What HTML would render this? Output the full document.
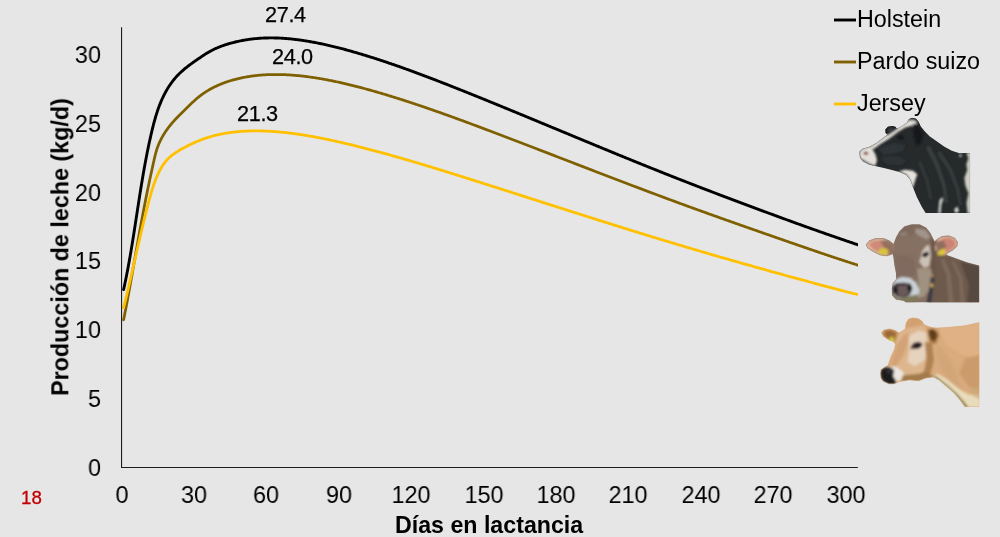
<!DOCTYPE html>
<html><head><meta charset="utf-8">
<style>
html,body{margin:0;padding:0;}
body{width:1000px;height:537px;background:#e7e6e6;overflow:hidden;position:relative;font-family:"Liberation Sans",sans-serif;color:#000;}
svg{position:absolute;left:0;top:0;}
.t{position:absolute;white-space:nowrap;line-height:1;will-change:transform;}
.yt{font-size:24.4px;text-align:right;width:60px;left:41px;transform:scaleX(0.96);transform-origin:100% 50%;}
.xt{font-size:24.4px;text-align:center;width:80px;transform:scaleX(0.96);transform-origin:50% 50%;}
.dl{font-size:21.7px;letter-spacing:-0.35px;-webkit-text-stroke:0.25px #000;}
.lg{font-size:23.3px;left:857px;}
</style></head><body>
<svg width="1000" height="537" viewBox="0 0 1000 537">
<defs><clipPath id="cp"><rect x="121" y="20" width="737" height="448"/></clipPath></defs>
<g clip-path="url(#cp)">
<path d="M123.60,289.60 L123.83,288.55 L124.06,287.50 L124.29,286.44 L124.51,285.39 L124.74,284.34 L124.96,283.28 L125.18,282.23 L125.39,281.18 L125.61,280.13 L125.83,279.07 L126.04,278.02 L126.25,276.97 L126.46,275.92 L126.67,274.86 L126.87,273.81 L127.08,272.76 L127.28,271.71 L127.48,270.65 L127.68,269.60 L127.88,268.55 L128.08,267.50 L128.27,266.44 L128.47,265.39 L128.66,264.34 L128.85,263.29 L129.04,262.23 L129.23,261.18 L129.42,260.13 L129.61,259.08 L129.79,258.02 L129.98,256.97 L130.16,255.92 L130.34,254.87 L130.52,253.81 L130.70,252.76 L130.88,251.71 L131.06,250.66 L131.24,249.60 L131.41,248.55 L131.59,247.50 L131.76,246.45 L131.94,245.39 L132.11,244.34 L132.28,243.29 L132.45,242.24 L132.62,241.19 L132.79,240.13 L132.96,239.08 L133.13,238.03 L133.30,236.98 L133.46,235.92 L133.63,234.87 L133.80,233.82 L133.96,232.77 L134.13,231.71 L134.29,230.66 L134.46,229.61 L134.62,228.56 L134.78,227.50 L134.95,226.45 L135.11,225.40 L135.27,224.35 L135.43,223.30 L135.59,222.24 L135.76,221.19 L135.92,220.14 L136.08,219.09 L136.24,218.03 L136.40,216.98 L136.56,215.93 L136.72,214.88 L136.89,213.83 L137.05,212.77 L137.21,211.72 L137.37,210.67 L137.53,209.62 L137.69,208.57 L137.85,207.51 L138.01,206.46 L138.18,205.41 L138.34,204.36 L138.50,203.31 L138.66,202.25 L138.83,201.20 L138.99,200.15 L139.15,199.10 L139.32,198.05 L139.48,196.99 L139.65,195.94 L139.81,194.89 L139.98,193.84 L140.15,192.79 L140.31,191.73 L140.48,190.68 L140.65,189.63 L140.82,188.58 L140.99,187.53 L141.16,186.48 L141.33,185.42 L141.50,184.37 L141.68,183.32 L141.85,182.27 L142.02,181.22 L142.20,180.17 L142.38,179.11 L142.55,178.06 L142.73,177.01 L142.91,175.96 L143.09,174.91 L143.27,173.86 L143.45,172.80 L143.64,171.75 L143.82,170.70 L144.01,169.65 L144.20,168.60 L144.38,167.55 L144.57,166.50 L144.76,165.44 L144.95,164.39 L145.15,163.34 L145.34,162.29 L145.54,161.24 L145.74,160.19 L145.93,159.14 L146.14,158.09 L146.34,157.03 L146.54,155.98 L146.75,154.93 L146.95,153.88 L147.16,152.83 L147.37,151.78 L147.58,150.73 L147.79,149.68 L148.01,148.63 L148.22,147.57 L148.44,146.52 L148.66,145.47 L148.88,144.42 L149.11,143.37 L149.33,142.32 L149.56,141.27 L149.79,140.22 L150.02,139.17 L150.26,138.12 L150.49,137.07 L150.73,136.01 L150.97,134.96 L151.21,133.91 L151.45,132.86 L151.70,131.81 L151.95,130.76 L152.20,129.71 L152.46,128.67 L152.71,127.62 L152.98,126.57 L153.24,125.53 L153.51,124.48 L153.78,123.44 L154.06,122.40 L154.34,121.36 L154.63,120.32 L154.92,119.29 L155.22,118.26 L155.52,117.22 L155.82,116.20 L156.14,115.17 L156.45,114.15 L156.78,113.13 L157.11,112.11 L157.44,111.10 L157.79,110.09 L158.14,109.08 L158.49,108.08 L158.86,107.08 L159.23,106.08 L159.60,105.09 L159.99,104.10 L160.38,103.12 L160.79,102.14 L161.19,101.17 L161.61,100.20 L162.04,99.23 L162.47,98.27 L162.92,97.32 L163.37,96.37 L163.83,95.43 L164.31,94.49 L164.79,93.56 L165.28,92.63 L165.78,91.71 L166.30,90.79 L166.82,89.89 L167.35,88.99 L167.90,88.09 L168.45,87.20 L169.02,86.32 L169.60,85.45 L170.19,84.58 L170.79,83.72 L171.40,82.87 L172.03,82.02 L172.66,81.19 L173.31,80.36 L173.98,79.54 L174.65,78.72 L175.34,77.92 L176.05,77.12 L176.76,76.34 L177.49,75.56 L178.23,74.79 L178.99,74.03 L179.76,73.27 L180.55,72.53 L181.34,71.80 L182.15,71.07 L182.97,70.35 L183.79,69.64 L184.63,68.93 L185.47,68.24 L186.33,67.55 L187.19,66.87 L188.05,66.19 L188.93,65.52 L189.81,64.86 L190.69,64.20 L191.58,63.55 L192.47,62.91 L193.36,62.27 L194.25,61.63 L195.15,61.00 L196.05,60.38 L196.94,59.76 L197.84,59.15 L198.73,58.54 L199.63,57.93 L200.52,57.33 L201.41,56.73 L202.29,56.14 L203.18,55.55 L204.06,54.97 L204.95,54.40 L205.83,53.83 L206.72,53.28 L207.62,52.73 L208.52,52.20 L209.43,51.67 L210.34,51.16 L211.26,50.67 L212.19,50.18 L213.13,49.71 L214.08,49.26 L215.03,48.81 L215.99,48.38 L216.96,47.96 L217.93,47.55 L218.91,47.15 L219.90,46.76 L220.89,46.38 L221.88,46.01 L222.88,45.65 L223.88,45.30 L224.89,44.96 L225.90,44.63 L226.92,44.31 L227.93,43.99 L228.96,43.69 L229.98,43.39 L231.01,43.10 L232.04,42.82 L233.07,42.55 L234.11,42.28 L235.14,42.03 L236.19,41.78 L237.23,41.54 L238.27,41.31 L239.32,41.09 L240.37,40.87 L241.42,40.66 L242.48,40.46 L243.53,40.27 L244.59,40.09 L245.65,39.91 L246.71,39.74 L247.77,39.58 L248.84,39.43 L249.90,39.28 L250.97,39.15 L252.03,39.02 L253.10,38.89 L254.17,38.78 L255.24,38.67 L256.31,38.57 L257.38,38.48 L258.45,38.39 L259.52,38.31 L260.59,38.24 L261.66,38.17 L262.73,38.12 L263.80,38.07 L264.87,38.02 L265.94,37.99 L267.01,37.96 L268.08,37.94 L269.15,37.92 L270.22,37.91 L271.29,37.91 L272.36,37.91 L273.42,37.92 L274.49,37.94 L275.56,37.96 L276.62,37.99 L277.69,38.02 L278.76,38.06 L279.82,38.11 L280.89,38.16 L281.95,38.22 L283.02,38.29 L284.08,38.36 L285.15,38.43 L286.21,38.51 L287.27,38.60 L288.33,38.69 L289.40,38.79 L290.46,38.89 L291.52,39.00 L292.58,39.11 L293.64,39.22 L294.70,39.35 L295.76,39.47 L296.82,39.60 L297.87,39.74 L298.93,39.88 L299.99,40.02 L301.05,40.17 L302.10,40.33 L303.16,40.48 L304.21,40.65 L305.27,40.81 L306.32,40.98 L307.37,41.16 L308.43,41.33 L309.48,41.51 L310.53,41.70 L311.58,41.89 L312.63,42.08 L313.68,42.28 L314.73,42.47 L315.78,42.68 L316.83,42.88 L317.88,43.09 L318.92,43.30 L319.97,43.52 L321.02,43.73 L322.06,43.95 L323.10,44.18 L324.15,44.40 L325.19,44.63 L326.23,44.87 L327.28,45.10 L328.32,45.34 L329.36,45.58 L330.40,45.82 L331.44,46.07 L332.48,46.32 L333.52,46.57 L334.55,46.82 L335.59,47.08 L336.63,47.34 L337.66,47.60 L338.70,47.86 L339.73,48.13 L340.77,48.39 L341.80,48.66 L342.84,48.94 L343.87,49.21 L344.90,49.49 L345.93,49.77 L346.96,50.05 L347.99,50.33 L349.02,50.62 L350.05,50.90 L351.08,51.19 L352.11,51.49 L353.14,51.78 L354.17,52.07 L355.19,52.37 L356.22,52.67 L357.24,52.97 L358.27,53.27 L359.30,53.58 L360.32,53.88 L361.34,54.19 L362.37,54.50 L363.39,54.81 L364.41,55.12 L365.43,55.43 L366.45,55.75 L367.48,56.06 L368.50,56.38 L369.52,56.70 L370.54,57.02 L371.55,57.34 L372.57,57.67 L373.59,57.99 L374.61,58.32 L375.63,58.64 L376.64,58.97 L377.66,59.30 L378.67,59.63 L379.69,59.96 L380.70,60.30 L381.72,60.63 L382.73,60.97 L383.75,61.30 L384.76,61.64 L385.77,61.98 L386.78,62.32 L387.80,62.66 L388.81,63.01 L389.82,63.35 L390.83,63.69 L391.84,64.04 L392.85,64.39 L393.86,64.74 L394.87,65.09 L395.88,65.44 L396.89,65.79 L397.89,66.14 L398.90,66.49 L399.91,66.85 L400.92,67.20 L401.92,67.56 L402.93,67.92 L403.94,68.28 L404.94,68.64 L405.95,69.00 L406.95,69.36 L407.96,69.72 L408.96,70.09 L409.96,70.45 L410.97,70.82 L411.97,71.18 L412.97,71.55 L413.98,71.92 L414.98,72.29 L415.98,72.66 L416.98,73.03 L417.98,73.40 L418.99,73.77 L419.99,74.14 L420.99,74.52 L421.99,74.89 L422.99,75.27 L423.99,75.64 L424.99,76.02 L425.99,76.40 L426.99,76.77 L427.98,77.15 L428.98,77.53 L429.98,77.91 L430.98,78.29 L431.98,78.68 L432.97,79.06 L433.97,79.44 L434.97,79.82 L435.97,80.21 L436.96,80.59 L437.96,80.98 L438.95,81.36 L439.95,81.75 L440.95,82.14 L441.94,82.53 L442.94,82.91 L443.93,83.30 L444.93,83.69 L445.92,84.08 L446.92,84.47 L447.91,84.86 L448.90,85.25 L449.90,85.64 L450.89,86.04 L451.89,86.43 L452.88,86.82 L453.87,87.22 L454.87,87.61 L455.86,88.00 L456.85,88.40 L457.85,88.79 L458.84,89.19 L459.83,89.58 L460.82,89.98 L461.81,90.38 L462.81,90.77 L463.80,91.17 L464.79,91.57 L465.78,91.96 L466.77,92.36 L467.77,92.76 L468.76,93.16 L469.75,93.56 L470.74,93.96 L471.73,94.35 L472.72,94.75 L473.71,95.15 L474.70,95.55 L475.69,95.95 L476.69,96.35 L477.68,96.75 L478.67,97.15 L479.66,97.55 L480.65,97.96 L481.64,98.36 L482.63,98.76 L483.62,99.16 L484.61,99.56 L485.60,99.96 L486.59,100.37 L487.58,100.77 L488.57,101.17 L489.56,101.57 L490.54,101.98 L491.53,102.38 L492.52,102.78 L493.51,103.19 L494.50,103.59 L495.49,104.00 L496.48,104.40 L497.47,104.80 L498.46,105.21 L499.45,105.61 L500.44,106.02 L501.42,106.42 L502.41,106.83 L503.40,107.23 L504.39,107.64 L505.38,108.04 L506.37,108.45 L507.35,108.86 L508.34,109.26 L509.33,109.67 L510.32,110.07 L511.31,110.48 L512.29,110.89 L513.28,111.29 L514.27,111.70 L515.26,112.11 L516.25,112.51 L517.23,112.92 L518.22,113.33 L519.21,113.74 L520.20,114.14 L521.18,114.55 L522.17,114.96 L523.16,115.37 L524.15,115.78 L525.13,116.18 L526.12,116.59 L527.11,117.00 L528.10,117.41 L529.08,117.82 L530.07,118.22 L531.06,118.63 L532.04,119.04 L533.03,119.45 L534.02,119.86 L535.01,120.27 L535.99,120.68 L536.98,121.09 L537.97,121.50 L538.95,121.90 L539.94,122.31 L540.93,122.72 L541.91,123.13 L542.90,123.54 L543.89,123.95 L544.87,124.36 L545.86,124.77 L546.85,125.18 L547.83,125.59 L548.82,126.00 L549.81,126.41 L550.79,126.82 L551.78,127.23 L552.77,127.64 L553.75,128.05 L554.74,128.46 L555.73,128.87 L556.71,129.27 L557.70,129.68 L558.69,130.09 L559.67,130.50 L560.66,130.91 L561.65,131.32 L562.63,131.73 L563.62,132.14 L564.61,132.55 L565.59,132.96 L566.58,133.37 L567.57,133.78 L568.55,134.19 L569.54,134.60 L570.53,135.01 L571.51,135.42 L572.50,135.83 L573.49,136.24 L574.47,136.65 L575.46,137.06 L576.45,137.47 L577.43,137.88 L578.42,138.28 L579.41,138.69 L580.40,139.10 L581.38,139.51 L582.37,139.92 L583.36,140.33 L584.34,140.74 L585.33,141.15 L586.32,141.56 L587.30,141.96 L588.29,142.37 L589.28,142.78 L590.27,143.19 L591.25,143.60 L592.24,144.01 L593.23,144.42 L594.21,144.82 L595.20,145.23 L596.19,145.64 L597.18,146.05 L598.16,146.45 L599.15,146.86 L600.14,147.27 L601.13,147.68 L602.11,148.08 L603.10,148.49 L604.09,148.90 L605.08,149.30 L606.06,149.71 L607.05,150.12 L608.04,150.52 L609.03,150.93 L610.02,151.34 L611.00,151.74 L611.99,152.15 L612.98,152.55 L613.97,152.96 L614.96,153.37 L615.95,153.77 L616.93,154.18 L617.92,154.58 L618.91,154.99 L619.90,155.39 L620.89,155.79 L621.88,156.20 L622.87,156.60 L623.86,157.01 L624.84,157.41 L625.83,157.81 L626.82,158.22 L627.81,158.62 L628.80,159.02 L629.79,159.43 L630.78,159.83 L631.77,160.23 L632.76,160.63 L633.75,161.04 L634.74,161.44 L635.73,161.84 L636.72,162.24 L637.71,162.64 L638.70,163.04 L639.69,163.44 L640.68,163.85 L641.67,164.25 L642.66,164.65 L643.65,165.05 L644.64,165.45 L645.63,165.84 L646.62,166.24 L647.61,166.64 L648.60,167.04 L649.60,167.44 L650.59,167.84 L651.58,168.24 L652.57,168.63 L653.56,169.03 L654.55,169.43 L655.55,169.83 L656.54,170.22 L657.53,170.62 L658.52,171.01 L659.51,171.41 L660.51,171.81 L661.50,172.20 L662.49,172.60 L663.48,172.99 L664.48,173.39 L665.47,173.78 L666.46,174.17 L667.46,174.57 L668.45,174.96 L669.44,175.35 L670.44,175.75 L671.43,176.14 L672.42,176.53 L673.42,176.92 L674.41,177.31 L675.40,177.71 L676.40,178.10 L677.39,178.49 L678.39,178.88 L679.38,179.27 L680.38,179.66 L681.37,180.05 L682.37,180.44 L683.36,180.83 L684.36,181.21 L685.35,181.60 L686.35,181.99 L687.34,182.38 L688.34,182.77 L689.33,183.15 L690.33,183.54 L691.33,183.93 L692.32,184.31 L693.32,184.70 L694.31,185.09 L695.31,185.47 L696.31,185.86 L697.30,186.24 L698.30,186.63 L699.30,187.01 L700.29,187.40 L701.29,187.78 L702.29,188.17 L703.28,188.55 L704.28,188.93 L705.28,189.32 L706.28,189.70 L707.27,190.08 L708.27,190.46 L709.27,190.85 L710.27,191.23 L711.26,191.61 L712.26,191.99 L713.26,192.37 L714.26,192.75 L715.26,193.13 L716.26,193.52 L717.25,193.90 L718.25,194.28 L719.25,194.66 L720.25,195.03 L721.25,195.41 L722.25,195.79 L723.25,196.17 L724.25,196.55 L725.24,196.93 L726.24,197.31 L727.24,197.69 L728.24,198.06 L729.24,198.44 L730.24,198.82 L731.24,199.19 L732.24,199.57 L733.24,199.95 L734.24,200.32 L735.24,200.70 L736.24,201.08 L737.24,201.45 L738.24,201.83 L739.24,202.20 L740.24,202.58 L741.24,202.95 L742.24,203.33 L743.24,203.70 L744.24,204.08 L745.24,204.45 L746.25,204.83 L747.25,205.20 L748.25,205.57 L749.25,205.95 L750.25,206.32 L751.25,206.69 L752.25,207.06 L753.25,207.44 L754.25,207.81 L755.26,208.18 L756.26,208.55 L757.26,208.92 L758.26,209.30 L759.26,209.67 L760.26,210.04 L761.27,210.41 L762.27,210.78 L763.27,211.15 L764.27,211.52 L765.27,211.89 L766.28,212.26 L767.28,212.63 L768.28,213.00 L769.28,213.37 L770.29,213.74 L771.29,214.11 L772.29,214.48 L773.29,214.85 L774.30,215.22 L775.30,215.58 L776.30,215.95 L777.30,216.32 L778.31,216.69 L779.31,217.06 L780.31,217.42 L781.32,217.79 L782.32,218.16 L783.32,218.52 L784.33,218.89 L785.33,219.26 L786.33,219.62 L787.34,219.99 L788.34,220.35 L789.35,220.72 L790.35,221.08 L791.35,221.45 L792.36,221.81 L793.36,222.18 L794.37,222.54 L795.37,222.90 L796.38,223.27 L797.38,223.63 L798.38,223.99 L799.39,224.36 L800.39,224.72 L801.40,225.08 L802.40,225.44 L803.41,225.80 L804.41,226.16 L805.42,226.52 L806.43,226.88 L807.43,227.24 L808.44,227.60 L809.44,227.96 L810.45,228.32 L811.46,228.68 L812.46,229.04 L813.47,229.40 L814.47,229.76 L815.48,230.11 L816.49,230.47 L817.49,230.83 L818.50,231.18 L819.51,231.54 L820.52,231.90 L821.52,232.25 L822.53,232.61 L823.54,232.96 L824.55,233.32 L825.55,233.67 L826.56,234.02 L827.57,234.38 L828.58,234.73 L829.59,235.08 L830.60,235.43 L831.60,235.79 L832.61,236.14 L833.62,236.49 L834.63,236.84 L835.64,237.19 L836.65,237.54 L837.66,237.89 L838.67,238.24 L839.68,238.59 L840.69,238.93 L841.70,239.28 L842.71,239.63 L843.72,239.98 L844.73,240.32 L845.74,240.67 L846.75,241.01 L847.76,241.36 L848.78,241.70 L849.79,242.05 L850.80,242.39 L851.81,242.73 L852.82,243.08 L853.83,243.42 L854.85,243.76 L855.86,244.10 L856.87,244.44 L857.89,244.78 L858.90,245.12 L859.91,245.46 L860.92,245.80 L861.94,246.14 L862.95,246.48 L863.97,246.82 L864.98,247.15 L865.99,247.49 L867.01,247.83" fill="none" stroke="#000000" stroke-width="2.9" stroke-linejoin="round" stroke-linecap="round"/>
<path d="M123.60,319.80 L123.81,318.77 L124.01,317.74 L124.22,316.71 L124.42,315.68 L124.62,314.65 L124.83,313.61 L125.03,312.58 L125.23,311.55 L125.43,310.52 L125.63,309.49 L125.83,308.45 L126.02,307.42 L126.22,306.39 L126.42,305.36 L126.61,304.32 L126.81,303.29 L127.00,302.26 L127.20,301.22 L127.39,300.19 L127.59,299.16 L127.78,298.12 L127.97,297.09 L128.16,296.05 L128.35,295.02 L128.54,293.99 L128.73,292.95 L128.92,291.92 L129.11,290.88 L129.30,289.85 L129.49,288.81 L129.68,287.78 L129.86,286.74 L130.05,285.71 L130.24,284.67 L130.42,283.64 L130.61,282.60 L130.80,281.57 L130.98,280.53 L131.17,279.50 L131.35,278.46 L131.53,277.43 L131.72,276.39 L131.90,275.36 L132.09,274.32 L132.27,273.28 L132.45,272.25 L132.64,271.21 L132.82,270.18 L133.00,269.14 L133.18,268.10 L133.37,267.07 L133.55,266.03 L133.73,265.00 L133.91,263.96 L134.10,262.92 L134.28,261.89 L134.46,260.85 L134.64,259.82 L134.82,258.78 L135.01,257.74 L135.19,256.71 L135.37,255.67 L135.55,254.64 L135.73,253.60 L135.92,252.56 L136.10,251.53 L136.28,250.49 L136.46,249.46 L136.64,248.42 L136.83,247.39 L137.01,246.35 L137.19,245.31 L137.37,244.28 L137.56,243.24 L137.74,242.21 L137.92,241.17 L138.11,240.14 L138.29,239.10 L138.48,238.07 L138.66,237.03 L138.85,236.00 L139.03,234.96 L139.22,233.93 L139.40,232.89 L139.59,231.86 L139.77,230.82 L139.96,229.79 L140.15,228.75 L140.34,227.72 L140.52,226.69 L140.71,225.65 L140.90,224.62 L141.09,223.59 L141.28,222.55 L141.47,221.52 L141.66,220.49 L141.85,219.45 L142.04,218.42 L142.24,217.39 L142.43,216.35 L142.62,215.32 L142.82,214.29 L143.01,213.26 L143.21,212.22 L143.40,211.19 L143.60,210.16 L143.79,209.13 L143.99,208.10 L144.19,207.07 L144.39,206.04 L144.59,205.00 L144.79,203.97 L144.99,202.94 L145.19,201.91 L145.39,200.88 L145.60,199.85 L145.80,198.82 L146.01,197.79 L146.21,196.77 L146.42,195.74 L146.62,194.71 L146.83,193.68 L147.04,192.65 L147.25,191.62 L147.46,190.60 L147.67,189.57 L147.89,188.54 L148.10,187.51 L148.31,186.49 L148.53,185.46 L148.75,184.43 L148.96,183.41 L149.18,182.38 L149.40,181.35 L149.62,180.33 L149.84,179.30 L150.06,178.27 L150.28,177.24 L150.50,176.22 L150.73,175.19 L150.95,174.16 L151.17,173.13 L151.40,172.10 L151.62,171.07 L151.85,170.04 L152.08,169.01 L152.31,167.97 L152.53,166.94 L152.76,165.91 L152.99,164.87 L153.22,163.83 L153.45,162.80 L153.68,161.76 L153.91,160.72 L154.15,159.68 L154.38,158.64 L154.62,157.60 L154.87,156.57 L155.12,155.53 L155.38,154.50 L155.65,153.48 L155.92,152.45 L156.21,151.44 L156.51,150.42 L156.82,149.42 L157.15,148.42 L157.49,147.43 L157.85,146.45 L158.22,145.47 L158.61,144.51 L159.01,143.55 L159.43,142.60 L159.86,141.65 L160.31,140.72 L160.77,139.79 L161.24,138.87 L161.73,137.95 L162.23,137.05 L162.74,136.15 L163.26,135.25 L163.80,134.37 L164.35,133.49 L164.91,132.62 L165.48,131.75 L166.06,130.89 L166.66,130.04 L167.26,129.19 L167.88,128.35 L168.50,127.52 L169.13,126.69 L169.78,125.87 L170.43,125.05 L171.09,124.25 L171.77,123.44 L172.45,122.64 L173.13,121.85 L173.83,121.06 L174.53,120.28 L175.25,119.50 L175.96,118.73 L176.69,117.97 L177.42,117.20 L178.16,116.45 L178.90,115.69 L179.65,114.94 L180.40,114.20 L181.16,113.45 L181.92,112.71 L182.68,111.97 L183.44,111.23 L184.20,110.49 L184.96,109.75 L185.72,109.01 L186.49,108.27 L187.24,107.53 L188.00,106.79 L188.76,106.04 L189.52,105.30 L190.28,104.56 L191.04,103.83 L191.80,103.10 L192.57,102.37 L193.34,101.65 L194.11,100.93 L194.89,100.22 L195.67,99.52 L196.46,98.83 L197.26,98.15 L198.06,97.48 L198.87,96.82 L199.69,96.17 L200.52,95.54 L201.36,94.91 L202.20,94.30 L203.05,93.70 L203.91,93.11 L204.77,92.53 L205.65,91.96 L206.52,91.40 L207.41,90.85 L208.30,90.32 L209.20,89.79 L210.11,89.27 L211.02,88.77 L211.94,88.28 L212.86,87.79 L213.79,87.32 L214.73,86.85 L215.67,86.40 L216.61,85.96 L217.56,85.52 L218.52,85.10 L219.48,84.69 L220.45,84.28 L221.42,83.89 L222.39,83.50 L223.37,83.13 L224.36,82.76 L225.34,82.40 L226.34,82.05 L227.33,81.71 L228.33,81.38 L229.33,81.06 L230.34,80.75 L231.35,80.45 L232.36,80.15 L233.38,79.86 L234.40,79.59 L235.42,79.32 L236.44,79.06 L237.47,78.80 L238.49,78.56 L239.52,78.32 L240.56,78.09 L241.59,77.87 L242.62,77.66 L243.66,77.45 L244.70,77.25 L245.74,77.06 L246.78,76.88 L247.82,76.71 L248.86,76.54 L249.91,76.38 L250.95,76.22 L252.00,76.08 L253.04,75.94 L254.09,75.81 L255.13,75.68 L256.18,75.56 L257.22,75.45 L258.27,75.34 L259.32,75.24 L260.37,75.15 L261.41,75.07 L262.46,74.99 L263.51,74.91 L264.56,74.85 L265.61,74.79 L266.66,74.73 L267.71,74.68 L268.76,74.64 L269.81,74.61 L270.86,74.57 L271.91,74.55 L272.96,74.53 L274.01,74.52 L275.06,74.51 L276.11,74.51 L277.16,74.51 L278.21,74.52 L279.26,74.54 L280.31,74.56 L281.36,74.58 L282.41,74.61 L283.46,74.65 L284.51,74.69 L285.56,74.73 L286.61,74.78 L287.66,74.84 L288.71,74.90 L289.76,74.96 L290.81,75.03 L291.86,75.10 L292.91,75.18 L293.96,75.26 L295.00,75.35 L296.05,75.44 L297.10,75.54 L298.15,75.64 L299.19,75.74 L300.24,75.85 L301.29,75.96 L302.33,76.08 L303.38,76.20 L304.42,76.32 L305.47,76.45 L306.51,76.58 L307.55,76.71 L308.60,76.85 L309.64,76.99 L310.68,77.14 L311.72,77.29 L312.76,77.44 L313.80,77.59 L314.84,77.75 L315.88,77.91 L316.92,78.08 L317.96,78.24 L318.99,78.42 L320.03,78.59 L321.07,78.77 L322.10,78.95 L323.14,79.13 L324.17,79.31 L325.21,79.50 L326.24,79.69 L327.27,79.89 L328.30,80.09 L329.34,80.29 L330.37,80.49 L331.40,80.69 L332.43,80.90 L333.46,81.11 L334.49,81.33 L335.51,81.54 L336.54,81.76 L337.57,81.98 L338.60,82.20 L339.62,82.43 L340.65,82.66 L341.68,82.89 L342.70,83.12 L343.73,83.36 L344.75,83.59 L345.77,83.83 L346.80,84.07 L347.82,84.32 L348.84,84.56 L349.86,84.81 L350.89,85.06 L351.91,85.31 L352.93,85.57 L353.95,85.82 L354.97,86.08 L355.99,86.34 L357.00,86.60 L358.02,86.87 L359.04,87.13 L360.06,87.40 L361.07,87.67 L362.09,87.94 L363.11,88.21 L364.12,88.48 L365.14,88.75 L366.15,89.03 L367.17,89.31 L368.18,89.59 L369.19,89.87 L370.21,90.15 L371.22,90.44 L372.23,90.72 L373.24,91.01 L374.25,91.29 L375.27,91.58 L376.28,91.87 L377.29,92.17 L378.30,92.46 L379.31,92.75 L380.32,93.05 L381.32,93.35 L382.33,93.65 L383.34,93.95 L384.35,94.25 L385.35,94.55 L386.36,94.85 L387.37,95.16 L388.37,95.46 L389.38,95.77 L390.39,96.08 L391.39,96.39 L392.40,96.70 L393.40,97.01 L394.40,97.32 L395.41,97.64 L396.41,97.95 L397.41,98.27 L398.42,98.58 L399.42,98.90 L400.42,99.22 L401.42,99.54 L402.42,99.86 L403.43,100.18 L404.43,100.51 L405.43,100.83 L406.43,101.15 L407.43,101.48 L408.43,101.81 L409.42,102.13 L410.42,102.46 L411.42,102.79 L412.42,103.12 L413.42,103.45 L414.42,103.78 L415.41,104.12 L416.41,104.45 L417.41,104.78 L418.40,105.12 L419.40,105.45 L420.40,105.79 L421.39,106.13 L422.39,106.47 L423.38,106.80 L424.38,107.14 L425.37,107.48 L426.37,107.83 L427.36,108.17 L428.35,108.51 L429.35,108.85 L430.34,109.20 L431.33,109.54 L432.33,109.89 L433.32,110.23 L434.31,110.58 L435.30,110.93 L436.30,111.28 L437.29,111.62 L438.28,111.97 L439.27,112.32 L440.26,112.67 L441.25,113.03 L442.24,113.38 L443.23,113.73 L444.22,114.08 L445.21,114.44 L446.20,114.79 L447.19,115.15 L448.18,115.50 L449.17,115.86 L450.16,116.21 L451.15,116.57 L452.14,116.93 L453.13,117.29 L454.12,117.65 L455.10,118.01 L456.09,118.37 L457.08,118.73 L458.07,119.09 L459.05,119.45 L460.04,119.81 L461.03,120.17 L462.02,120.53 L463.00,120.90 L463.99,121.26 L464.98,121.62 L465.96,121.99 L466.95,122.35 L467.93,122.72 L468.92,123.08 L469.91,123.45 L470.89,123.81 L471.88,124.18 L472.86,124.55 L473.85,124.92 L474.83,125.28 L475.82,125.65 L476.80,126.02 L477.79,126.39 L478.77,126.76 L479.76,127.13 L480.74,127.49 L481.73,127.86 L482.71,128.23 L483.69,128.60 L484.68,128.98 L485.66,129.35 L486.65,129.72 L487.63,130.09 L488.61,130.46 L489.60,130.83 L490.58,131.20 L491.56,131.58 L492.55,131.95 L493.53,132.32 L494.51,132.69 L495.50,133.07 L496.48,133.44 L497.46,133.81 L498.45,134.19 L499.43,134.56 L500.41,134.93 L501.40,135.31 L502.38,135.68 L503.36,136.05 L504.34,136.43 L505.33,136.80 L506.31,137.18 L507.29,137.55 L508.27,137.93 L509.26,138.30 L510.24,138.68 L511.22,139.05 L512.20,139.43 L513.19,139.80 L514.17,140.18 L515.15,140.55 L516.13,140.93 L517.11,141.30 L518.10,141.68 L519.08,142.06 L520.06,142.43 L521.04,142.81 L522.02,143.19 L523.00,143.56 L523.99,143.94 L524.97,144.32 L525.95,144.69 L526.93,145.07 L527.91,145.45 L528.89,145.82 L529.88,146.20 L530.86,146.58 L531.84,146.95 L532.82,147.33 L533.80,147.71 L534.78,148.09 L535.76,148.46 L536.75,148.84 L537.73,149.22 L538.71,149.60 L539.69,149.98 L540.67,150.35 L541.65,150.73 L542.63,151.11 L543.62,151.49 L544.60,151.87 L545.58,152.24 L546.56,152.62 L547.54,153.00 L548.52,153.38 L549.50,153.76 L550.48,154.14 L551.46,154.51 L552.44,154.89 L553.43,155.27 L554.41,155.65 L555.39,156.03 L556.37,156.41 L557.35,156.78 L558.33,157.16 L559.31,157.54 L560.29,157.92 L561.27,158.30 L562.25,158.68 L563.24,159.06 L564.22,159.43 L565.20,159.81 L566.18,160.19 L567.16,160.57 L568.14,160.95 L569.12,161.33 L570.10,161.71 L571.08,162.08 L572.06,162.46 L573.05,162.84 L574.03,163.22 L575.01,163.60 L575.99,163.98 L576.97,164.35 L577.95,164.73 L578.93,165.11 L579.91,165.49 L580.89,165.87 L581.87,166.25 L582.86,166.62 L583.84,167.00 L584.82,167.38 L585.80,167.76 L586.78,168.14 L587.76,168.51 L588.74,168.89 L589.72,169.27 L590.71,169.65 L591.69,170.02 L592.67,170.40 L593.65,170.78 L594.63,171.16 L595.61,171.53 L596.59,171.91 L597.57,172.29 L598.56,172.67 L599.54,173.04 L600.52,173.42 L601.50,173.80 L602.48,174.17 L603.46,174.55 L604.45,174.93 L605.43,175.30 L606.41,175.68 L607.39,176.06 L608.37,176.43 L609.35,176.81 L610.34,177.18 L611.32,177.56 L612.30,177.94 L613.28,178.31 L614.26,178.69 L615.25,179.06 L616.23,179.44 L617.21,179.81 L618.19,180.19 L619.18,180.56 L620.16,180.94 L621.14,181.31 L622.12,181.69 L623.11,182.06 L624.09,182.44 L625.07,182.81 L626.05,183.18 L627.04,183.56 L628.02,183.93 L629.00,184.30 L629.98,184.68 L630.97,185.05 L631.95,185.42 L632.93,185.80 L633.92,186.17 L634.90,186.54 L635.88,186.91 L636.87,187.29 L637.85,187.66 L638.83,188.03 L639.82,188.40 L640.80,188.77 L641.78,189.14 L642.77,189.52 L643.75,189.89 L644.74,190.26 L645.72,190.63 L646.70,191.00 L647.69,191.37 L648.67,191.74 L649.66,192.11 L650.64,192.48 L651.62,192.85 L652.61,193.22 L653.59,193.58 L654.58,193.95 L655.56,194.32 L656.55,194.69 L657.53,195.06 L658.52,195.43 L659.50,195.79 L660.49,196.16 L661.47,196.53 L662.46,196.89 L663.44,197.26 L664.43,197.63 L665.41,197.99 L666.40,198.36 L667.39,198.72 L668.37,199.09 L669.36,199.46 L670.34,199.82 L671.33,200.18 L672.32,200.55 L673.30,200.91 L674.29,201.28 L675.28,201.64 L676.26,202.00 L677.25,202.37 L678.24,202.73 L679.22,203.09 L680.21,203.46 L681.20,203.82 L682.18,204.18 L683.17,204.54 L684.16,204.90 L685.15,205.26 L686.13,205.62 L687.12,205.98 L688.11,206.34 L689.10,206.70 L690.09,207.06 L691.07,207.42 L692.06,207.78 L693.05,208.14 L694.04,208.50 L695.03,208.86 L696.02,209.21 L697.00,209.57 L697.99,209.93 L698.98,210.29 L699.97,210.64 L700.96,211.00 L701.95,211.36 L702.94,211.71 L703.93,212.07 L704.92,212.42 L705.91,212.78 L706.90,213.13 L707.89,213.49 L708.88,213.84 L709.87,214.20 L710.86,214.55 L711.85,214.91 L712.84,215.26 L713.83,215.61 L714.82,215.97 L715.81,216.32 L716.80,216.67 L717.79,217.03 L718.78,217.38 L719.77,217.73 L720.76,218.08 L721.75,218.44 L722.74,218.79 L723.73,219.14 L724.73,219.49 L725.72,219.84 L726.71,220.19 L727.70,220.54 L728.69,220.90 L729.68,221.25 L730.67,221.60 L731.66,221.95 L732.66,222.30 L733.65,222.65 L734.64,223.00 L735.63,223.35 L736.62,223.70 L737.61,224.05 L738.61,224.40 L739.60,224.74 L740.59,225.09 L741.58,225.44 L742.57,225.79 L743.57,226.14 L744.56,226.49 L745.55,226.84 L746.54,227.19 L747.53,227.53 L748.53,227.88 L749.52,228.23 L750.51,228.58 L751.50,228.92 L752.50,229.27 L753.49,229.62 L754.48,229.97 L755.47,230.31 L756.47,230.66 L757.46,231.01 L758.45,231.36 L759.44,231.70 L760.44,232.05 L761.43,232.40 L762.42,232.74 L763.41,233.09 L764.41,233.44 L765.40,233.78 L766.39,234.13 L767.38,234.48 L768.38,234.82 L769.37,235.17 L770.36,235.52 L771.36,235.86 L772.35,236.21 L773.34,236.55 L774.33,236.90 L775.33,237.25 L776.32,237.59 L777.31,237.94 L778.31,238.28 L779.30,238.63 L780.29,238.98 L781.28,239.32 L782.28,239.67 L783.27,240.01 L784.26,240.36 L785.26,240.70 L786.25,241.05 L787.24,241.39 L788.24,241.74 L789.23,242.08 L790.22,242.43 L791.22,242.77 L792.21,243.12 L793.20,243.46 L794.20,243.81 L795.19,244.15 L796.18,244.49 L797.18,244.84 L798.17,245.18 L799.16,245.52 L800.16,245.87 L801.15,246.21 L802.15,246.55 L803.14,246.90 L804.13,247.24 L805.13,247.58 L806.12,247.92 L807.12,248.26 L808.11,248.61 L809.11,248.95 L810.10,249.29 L811.09,249.63 L812.09,249.97 L813.08,250.31 L814.08,250.65 L815.07,250.99 L816.07,251.33 L817.06,251.66 L818.06,252.00 L819.06,252.34 L820.05,252.68 L821.05,253.02 L822.04,253.35 L823.04,253.69 L824.04,254.03 L825.03,254.36 L826.03,254.70 L827.02,255.03 L828.02,255.37 L829.02,255.70 L830.01,256.04 L831.01,256.37 L832.01,256.70 L833.01,257.04 L834.00,257.37 L835.00,257.70 L836.00,258.03 L837.00,258.36 L837.99,258.69 L838.99,259.02 L839.99,259.35 L840.99,259.68 L841.99,260.01 L842.99,260.34 L843.99,260.67 L844.99,261.00 L845.99,261.32 L846.99,261.65 L847.98,261.97 L848.98,262.30 L849.99,262.62 L850.99,262.95 L851.99,263.27 L852.99,263.60 L853.99,263.92 L854.99,264.24 L855.99,264.56 L856.99,264.88 L857.99,265.20 L859.00,265.52 L860.00,265.84 L861.00,266.16 L862.00,266.48 L863.01,266.79 L864.01,267.11 L865.01,267.43" fill="none" stroke="#7f6000" stroke-width="2.75" stroke-linejoin="round" stroke-linecap="round"/>
<path d="M123.60,307.70 L123.84,306.74 L124.08,305.77 L124.32,304.81 L124.56,303.85 L124.80,302.89 L125.04,301.92 L125.27,300.96 L125.51,300.00 L125.74,299.03 L125.97,298.07 L126.21,297.11 L126.44,296.15 L126.67,295.19 L126.90,294.22 L127.13,293.26 L127.36,292.30 L127.59,291.34 L127.82,290.37 L128.04,289.41 L128.27,288.45 L128.50,287.49 L128.72,286.53 L128.95,285.57 L129.17,284.60 L129.40,283.64 L129.62,282.68 L129.84,281.72 L130.07,280.76 L130.29,279.80 L130.51,278.83 L130.73,277.87 L130.95,276.91 L131.17,275.95 L131.39,274.99 L131.61,274.03 L131.83,273.07 L132.05,272.11 L132.27,271.14 L132.49,270.18 L132.71,269.22 L132.93,268.26 L133.15,267.30 L133.36,266.34 L133.58,265.38 L133.80,264.42 L134.02,263.46 L134.24,262.50 L134.45,261.54 L134.67,260.57 L134.89,259.61 L135.11,258.65 L135.33,257.69 L135.54,256.73 L135.76,255.77 L135.98,254.81 L136.20,253.85 L136.42,252.89 L136.63,251.93 L136.85,250.97 L137.07,250.01 L137.29,249.05 L137.51,248.09 L137.73,247.13 L137.95,246.16 L138.17,245.20 L138.39,244.24 L138.61,243.28 L138.83,242.32 L139.05,241.36 L139.27,240.40 L139.50,239.44 L139.72,238.48 L139.94,237.52 L140.16,236.56 L140.39,235.60 L140.61,234.64 L140.84,233.68 L141.06,232.72 L141.29,231.76 L141.52,230.80 L141.74,229.84 L141.97,228.88 L142.20,227.92 L142.43,226.96 L142.66,225.99 L142.89,225.03 L143.12,224.07 L143.35,223.11 L143.59,222.15 L143.82,221.19 L144.05,220.23 L144.29,219.27 L144.53,218.31 L144.76,217.35 L145.00,216.39 L145.24,215.43 L145.48,214.47 L145.72,213.51 L145.96,212.55 L146.20,211.58 L146.45,210.62 L146.69,209.66 L146.94,208.70 L147.18,207.74 L147.43,206.78 L147.68,205.82 L147.93,204.86 L148.18,203.90 L148.43,202.94 L148.69,201.97 L148.94,201.01 L149.20,200.05 L149.45,199.09 L149.71,198.13 L149.98,197.17 L150.24,196.21 L150.51,195.26 L150.78,194.30 L151.06,193.34 L151.33,192.39 L151.62,191.43 L151.90,190.48 L152.20,189.53 L152.49,188.58 L152.79,187.64 L153.10,186.69 L153.41,185.75 L153.73,184.81 L154.06,183.88 L154.39,182.94 L154.73,182.01 L155.08,181.08 L155.43,180.16 L155.79,179.24 L156.16,178.32 L156.54,177.40 L156.92,176.49 L157.32,175.59 L157.72,174.68 L158.14,173.79 L158.56,172.89 L158.99,172.00 L159.44,171.12 L159.90,170.25 L160.36,169.38 L160.84,168.53 L161.34,167.68 L161.84,166.84 L162.36,166.01 L162.89,165.19 L163.44,164.38 L164.00,163.59 L164.58,162.81 L165.18,162.04 L165.79,161.28 L166.41,160.55 L167.05,159.82 L167.71,159.11 L168.39,158.42 L169.09,157.74 L169.80,157.09 L170.54,156.45 L171.29,155.82 L172.05,155.22 L172.83,154.62 L173.63,154.04 L174.43,153.48 L175.25,152.92 L176.08,152.38 L176.91,151.85 L177.76,151.32 L178.61,150.81 L179.47,150.30 L180.33,149.80 L181.19,149.31 L182.06,148.82 L182.93,148.34 L183.80,147.86 L184.68,147.39 L185.55,146.92 L186.43,146.46 L187.32,146.01 L188.20,145.56 L189.09,145.12 L189.98,144.68 L190.87,144.25 L191.77,143.83 L192.67,143.41 L193.57,143.00 L194.47,142.60 L195.37,142.20 L196.28,141.81 L197.19,141.43 L198.10,141.05 L199.02,140.68 L199.94,140.32 L200.86,139.96 L201.78,139.61 L202.70,139.27 L203.63,138.93 L204.56,138.60 L205.49,138.28 L206.42,137.97 L207.36,137.66 L208.30,137.36 L209.24,137.07 L210.18,136.78 L211.13,136.51 L212.07,136.24 L213.02,135.98 L213.98,135.72 L214.93,135.48 L215.89,135.24 L216.84,135.01 L217.80,134.78 L218.76,134.56 L219.73,134.36 L220.69,134.15 L221.66,133.96 L222.63,133.77 L223.60,133.59 L224.57,133.41 L225.54,133.24 L226.52,133.08 L227.49,132.93 L228.47,132.78 L229.45,132.64 L230.43,132.50 L231.41,132.37 L232.39,132.25 L233.37,132.13 L234.35,132.02 L235.34,131.91 L236.32,131.81 L237.31,131.72 L238.30,131.63 L239.28,131.55 L240.27,131.47 L241.26,131.40 L242.25,131.33 L243.24,131.27 L244.23,131.21 L245.22,131.16 L246.21,131.11 L247.20,131.07 L248.19,131.03 L249.18,131.00 L250.17,130.97 L251.16,130.95 L252.16,130.93 L253.15,130.92 L254.14,130.91 L255.13,130.90 L256.12,130.90 L257.11,130.91 L258.10,130.91 L259.09,130.92 L260.08,130.94 L261.06,130.96 L262.05,130.98 L263.04,131.01 L264.03,131.04 L265.02,131.07 L266.00,131.11 L266.99,131.15 L267.98,131.20 L268.96,131.25 L269.95,131.30 L270.93,131.36 L271.92,131.42 L272.91,131.48 L273.89,131.55 L274.87,131.62 L275.86,131.69 L276.84,131.77 L277.83,131.85 L278.81,131.93 L279.79,132.02 L280.78,132.11 L281.76,132.21 L282.74,132.30 L283.72,132.40 L284.70,132.51 L285.68,132.61 L286.67,132.72 L287.65,132.83 L288.63,132.95 L289.61,133.06 L290.59,133.18 L291.57,133.31 L292.54,133.43 L293.52,133.56 L294.50,133.69 L295.48,133.83 L296.46,133.96 L297.44,134.10 L298.41,134.25 L299.39,134.39 L300.37,134.54 L301.34,134.69 L302.32,134.84 L303.29,134.99 L304.27,135.15 L305.24,135.30 L306.22,135.47 L307.19,135.63 L308.17,135.79 L309.14,135.96 L310.11,136.13 L311.09,136.30 L312.06,136.47 L313.03,136.65 L314.00,136.82 L314.98,137.00 L315.95,137.18 L316.92,137.37 L317.89,137.55 L318.86,137.74 L319.83,137.92 L320.80,138.11 L321.77,138.30 L322.74,138.50 L323.71,138.69 L324.68,138.88 L325.64,139.08 L326.61,139.28 L327.58,139.48 L328.55,139.68 L329.51,139.89 L330.48,140.09 L331.45,140.30 L332.41,140.50 L333.38,140.71 L334.34,140.92 L335.31,141.13 L336.27,141.35 L337.24,141.56 L338.20,141.78 L339.17,142.00 L340.13,142.21 L341.09,142.43 L342.06,142.65 L343.02,142.88 L343.98,143.10 L344.95,143.32 L345.91,143.55 L346.87,143.78 L347.83,144.01 L348.79,144.24 L349.75,144.47 L350.71,144.70 L351.67,144.93 L352.63,145.16 L353.59,145.40 L354.55,145.64 L355.51,145.87 L356.47,146.11 L357.43,146.35 L358.39,146.59 L359.35,146.83 L360.31,147.07 L361.26,147.32 L362.22,147.56 L363.18,147.80 L364.14,148.05 L365.09,148.30 L366.05,148.54 L367.01,148.79 L367.96,149.04 L368.92,149.29 L369.88,149.54 L370.83,149.79 L371.79,150.05 L372.74,150.30 L373.70,150.55 L374.65,150.81 L375.61,151.06 L376.56,151.32 L377.51,151.58 L378.47,151.83 L379.42,152.09 L380.38,152.35 L381.33,152.61 L382.28,152.87 L383.23,153.13 L384.19,153.39 L385.14,153.66 L386.09,153.92 L387.04,154.18 L388.00,154.45 L388.95,154.71 L389.90,154.98 L390.85,155.24 L391.80,155.51 L392.75,155.78 L393.70,156.05 L394.65,156.32 L395.60,156.58 L396.56,156.85 L397.51,157.13 L398.46,157.40 L399.40,157.67 L400.35,157.94 L401.30,158.21 L402.25,158.49 L403.20,158.76 L404.15,159.04 L405.10,159.31 L406.05,159.59 L407.00,159.86 L407.95,160.14 L408.89,160.42 L409.84,160.69 L410.79,160.97 L411.74,161.25 L412.69,161.53 L413.63,161.81 L414.58,162.09 L415.53,162.37 L416.47,162.65 L417.42,162.94 L418.37,163.22 L419.31,163.50 L420.26,163.78 L421.21,164.07 L422.15,164.35 L423.10,164.64 L424.05,164.92 L424.99,165.21 L425.94,165.49 L426.88,165.78 L427.83,166.06 L428.77,166.35 L429.72,166.64 L430.66,166.92 L431.61,167.21 L432.55,167.50 L433.50,167.79 L434.44,168.08 L435.39,168.37 L436.33,168.66 L437.28,168.95 L438.22,169.24 L439.17,169.53 L440.11,169.82 L441.06,170.11 L442.00,170.40 L442.94,170.69 L443.89,170.99 L444.83,171.28 L445.77,171.57 L446.72,171.86 L447.66,172.16 L448.61,172.45 L449.55,172.75 L450.49,173.04 L451.44,173.33 L452.38,173.63 L453.32,173.92 L454.26,174.22 L455.21,174.51 L456.15,174.81 L457.09,175.10 L458.04,175.40 L458.98,175.70 L459.92,175.99 L460.86,176.29 L461.81,176.58 L462.75,176.88 L463.69,177.18 L464.63,177.47 L465.58,177.77 L466.52,178.07 L467.46,178.37 L468.40,178.66 L469.35,178.96 L470.29,179.26 L471.23,179.56 L472.17,179.85 L473.11,180.15 L474.06,180.45 L475.00,180.75 L475.94,181.05 L476.88,181.34 L477.82,181.64 L478.77,181.94 L479.71,182.24 L480.65,182.54 L481.59,182.84 L482.53,183.14 L483.48,183.44 L484.42,183.73 L485.36,184.03 L486.30,184.33 L487.24,184.63 L488.18,184.93 L489.13,185.23 L490.07,185.53 L491.01,185.83 L491.95,186.13 L492.89,186.43 L493.83,186.73 L494.77,187.03 L495.72,187.33 L496.66,187.63 L497.60,187.93 L498.54,188.23 L499.48,188.53 L500.42,188.83 L501.36,189.13 L502.31,189.43 L503.25,189.73 L504.19,190.03 L505.13,190.33 L506.07,190.63 L507.01,190.93 L507.95,191.23 L508.89,191.53 L509.84,191.84 L510.78,192.14 L511.72,192.44 L512.66,192.74 L513.60,193.04 L514.54,193.34 L515.48,193.64 L516.42,193.94 L517.37,194.24 L518.31,194.54 L519.25,194.84 L520.19,195.15 L521.13,195.45 L522.07,195.75 L523.01,196.05 L523.95,196.35 L524.89,196.65 L525.84,196.95 L526.78,197.25 L527.72,197.56 L528.66,197.86 L529.60,198.16 L530.54,198.46 L531.48,198.76 L532.42,199.06 L533.36,199.36 L534.30,199.66 L535.25,199.96 L536.19,200.27 L537.13,200.57 L538.07,200.87 L539.01,201.17 L539.95,201.47 L540.89,201.77 L541.83,202.07 L542.77,202.37 L543.71,202.68 L544.66,202.98 L545.60,203.28 L546.54,203.58 L547.48,203.88 L548.42,204.18 L549.36,204.48 L550.30,204.78 L551.24,205.08 L552.18,205.39 L553.13,205.69 L554.07,205.99 L555.01,206.29 L555.95,206.59 L556.89,206.89 L557.83,207.19 L558.77,207.49 L559.71,207.79 L560.66,208.09 L561.60,208.39 L562.54,208.69 L563.48,208.99 L564.42,209.29 L565.36,209.59 L566.30,209.89 L567.24,210.20 L568.19,210.50 L569.13,210.80 L570.07,211.10 L571.01,211.40 L571.95,211.70 L572.89,212.00 L573.83,212.30 L574.78,212.60 L575.72,212.89 L576.66,213.19 L577.60,213.49 L578.54,213.79 L579.48,214.09 L580.42,214.39 L581.37,214.69 L582.31,214.99 L583.25,215.29 L584.19,215.59 L585.13,215.89 L586.07,216.19 L587.02,216.49 L587.96,216.78 L588.90,217.08 L589.84,217.38 L590.78,217.68 L591.73,217.98 L592.67,218.28 L593.61,218.57 L594.55,218.87 L595.49,219.17 L596.44,219.47 L597.38,219.77 L598.32,220.06 L599.26,220.36 L600.20,220.66 L601.15,220.96 L602.09,221.25 L603.03,221.55 L603.97,221.85 L604.92,222.14 L605.86,222.44 L606.80,222.74 L607.74,223.03 L608.69,223.33 L609.63,223.63 L610.57,223.92 L611.51,224.22 L612.46,224.51 L613.40,224.81 L614.34,225.10 L615.28,225.40 L616.23,225.69 L617.17,225.99 L618.11,226.28 L619.06,226.58 L620.00,226.87 L620.94,227.17 L621.89,227.46 L622.83,227.76 L623.77,228.05 L624.72,228.35 L625.66,228.64 L626.60,228.93 L627.55,229.23 L628.49,229.52 L629.43,229.81 L630.38,230.11 L631.32,230.40 L632.26,230.69 L633.21,230.98 L634.15,231.28 L635.09,231.57 L636.04,231.86 L636.98,232.15 L637.93,232.44 L638.87,232.74 L639.81,233.03 L640.76,233.32 L641.70,233.61 L642.65,233.90 L643.59,234.19 L644.54,234.48 L645.48,234.77 L646.42,235.06 L647.37,235.35 L648.31,235.64 L649.26,235.93 L650.20,236.22 L651.15,236.51 L652.09,236.80 L653.04,237.09 L653.98,237.38 L654.93,237.66 L655.87,237.95 L656.82,238.24 L657.76,238.53 L658.71,238.81 L659.65,239.10 L660.60,239.39 L661.54,239.68 L662.49,239.96 L663.43,240.25 L664.38,240.54 L665.33,240.82 L666.27,241.11 L667.22,241.39 L668.16,241.68 L669.11,241.96 L670.06,242.25 L671.00,242.53 L671.95,242.82 L672.89,243.10 L673.84,243.39 L674.79,243.67 L675.73,243.95 L676.68,244.24 L677.63,244.52 L678.57,244.80 L679.52,245.08 L680.47,245.37 L681.41,245.65 L682.36,245.93 L683.31,246.21 L684.26,246.49 L685.20,246.78 L686.15,247.06 L687.10,247.34 L688.04,247.62 L688.99,247.90 L689.94,248.18 L690.89,248.46 L691.83,248.74 L692.78,249.02 L693.73,249.30 L694.68,249.58 L695.63,249.86 L696.57,250.14 L697.52,250.41 L698.47,250.69 L699.42,250.97 L700.37,251.25 L701.31,251.53 L702.26,251.80 L703.21,252.08 L704.16,252.36 L705.11,252.64 L706.06,252.91 L707.01,253.19 L707.95,253.47 L708.90,253.74 L709.85,254.02 L710.80,254.29 L711.75,254.57 L712.70,254.84 L713.65,255.12 L714.60,255.39 L715.55,255.67 L716.49,255.94 L717.44,256.22 L718.39,256.49 L719.34,256.77 L720.29,257.04 L721.24,257.31 L722.19,257.59 L723.14,257.86 L724.09,258.13 L725.04,258.41 L725.99,258.68 L726.94,258.95 L727.89,259.22 L728.84,259.50 L729.79,259.77 L730.74,260.04 L731.69,260.31 L732.64,260.58 L733.59,260.85 L734.54,261.12 L735.49,261.40 L736.44,261.67 L737.39,261.94 L738.34,262.21 L739.29,262.48 L740.24,262.75 L741.19,263.02 L742.14,263.29 L743.09,263.56 L744.04,263.83 L744.99,264.09 L745.95,264.36 L746.90,264.63 L747.85,264.90 L748.80,265.17 L749.75,265.44 L750.70,265.71 L751.65,265.97 L752.60,266.24 L753.55,266.51 L754.50,266.78 L755.46,267.04 L756.41,267.31 L757.36,267.58 L758.31,267.84 L759.26,268.11 L760.21,268.38 L761.16,268.64 L762.12,268.91 L763.07,269.18 L764.02,269.44 L764.97,269.71 L765.92,269.97 L766.87,270.24 L767.83,270.50 L768.78,270.77 L769.73,271.03 L770.68,271.30 L771.63,271.56 L772.59,271.83 L773.54,272.09 L774.49,272.36 L775.44,272.62 L776.39,272.88 L777.35,273.15 L778.30,273.41 L779.25,273.67 L780.20,273.94 L781.16,274.20 L782.11,274.46 L783.06,274.72 L784.01,274.99 L784.97,275.25 L785.92,275.51 L786.87,275.77 L787.82,276.03 L788.78,276.30 L789.73,276.56 L790.68,276.82 L791.64,277.08 L792.59,277.34 L793.54,277.60 L794.49,277.86 L795.45,278.12 L796.40,278.38 L797.35,278.64 L798.31,278.90 L799.26,279.16 L800.21,279.42 L801.17,279.68 L802.12,279.94 L803.07,280.19 L804.03,280.45 L804.98,280.71 L805.94,280.97 L806.89,281.22 L807.84,281.48 L808.80,281.74 L809.75,282.00 L810.71,282.25 L811.66,282.51 L812.61,282.77 L813.57,283.02 L814.52,283.28 L815.48,283.53 L816.43,283.79 L817.39,284.04 L818.34,284.30 L819.30,284.55 L820.25,284.81 L821.20,285.06 L822.16,285.31 L823.11,285.57 L824.07,285.82 L825.02,286.07 L825.98,286.32 L826.94,286.58 L827.89,286.83 L828.85,287.08 L829.80,287.33 L830.76,287.58 L831.71,287.83 L832.67,288.09 L833.62,288.34 L834.58,288.59 L835.54,288.84 L836.49,289.09 L837.45,289.33 L838.40,289.58 L839.36,289.83 L840.32,290.08 L841.27,290.33 L842.23,290.58 L843.19,290.82 L844.14,291.07 L845.10,291.32 L846.06,291.56 L847.01,291.81 L847.97,292.06 L848.93,292.30 L849.88,292.55 L850.84,292.79 L851.80,293.04 L852.76,293.28 L853.71,293.53 L854.67,293.77 L855.63,294.01 L856.59,294.26 L857.54,294.50 L858.50,294.74 L859.46,294.98 L860.42,295.23 L861.38,295.47 L862.34,295.71 L863.29,295.95 L864.25,296.19 L865.21,296.43 L866.17,296.67 L867.13,296.91 L868.09,297.15 L869.05,297.39 L870.01,297.63" fill="none" stroke="#ffc000" stroke-width="2.8" stroke-linejoin="round" stroke-linecap="round"/>

</g>
<path d="M121.55,27.3 V467.5 H857.8" fill="none" stroke="#1c1c1c" stroke-width="1.1" stroke-linejoin="miter"/>
<defs>
<filter id="bl" x="-5%" y="-5%" width="110%" height="110%"><feGaussianBlur stdDeviation="5"/></filter>
<filter id="bl2" x="-5%" y="-5%" width="110%" height="110%"><feGaussianBlur stdDeviation="0.55"/></filter>
<clipPath id="hc"><path id="hout" d="M22,205 L25,235 L40,255 L75,272 L110,280 L160,292 L230,310 L265,325 L285,350 L300,390 L320,440 L345,490 L365,522 L595,522 L595,212 L570,212 L540,213 L500,200 L460,178 L420,150 L385,125 L360,100 L340,75 L328,50 L315,35 L295,30 L278,38 L268,55 L230,80 L215,85 L210,78 L195,72 L170,76 L157,90 L158,108 L168,118 L150,130 L110,160 L75,180 L40,190 Z"/></clipPath>
<clipPath id="bc"><path id="bout" d="M35,160 L55,135 L95,120 L140,120 L175,135 L200,155 L215,115 L235,80 L265,50 L310,37 L355,38 L395,58 L420,90 L435,120 L445,140 L460,125 L490,108 L530,105 L565,118 L585,145 L580,170 L550,195 L515,215 L520,222 L570,240 L640,265 L712,285 L712,505 L275,505 L262,494 L215,486 L192,462 L190,420 L195,390 L215,365 L215,330 L205,280 L200,240 L195,215 L160,228 L120,222 L75,200 L45,180 Z"/></clipPath>
<clipPath id="jc"><path id="jout" d="M45,330 L48,310 L65,298 L85,285 L100,240 L120,200 L125,175 L115,160 L90,150 L60,130 L50,110 L65,95 L95,90 L125,98 L145,112 L165,100 L178,90 L182,60 L195,38 L220,30 L250,35 L270,50 L278,65 L300,75 L320,82 L340,85 L355,85 L420,80 L500,72 L577,55 L577,510 L500,510 L485,490 L470,470 L440,435 L400,400 L360,365 L330,350 L290,355 L250,370 L200,365 L160,372 L120,385 L90,385 L60,372 L48,355 Z"/></clipPath>
</defs>

<!-- Holstein -->
<g filter="url(#bl2)"><g transform="translate(855,112) scale(0.19355)">
<g clip-path="url(#hc)">
<rect x="0" y="0" width="620" height="540" fill="#25292a"/>
<g filter="url(#bl)">
<path d="M22,205 L25,235 L40,255 L75,272 L105,278 L114,250 L106,220 L92,195 L75,178 L40,188 Z" fill="#e4e0da"/>
<path d="M70,182 L110,158 L150,128 L168,116 L215,83 L268,53 L278,36 L295,28 L318,33 L324,55 L300,68 L258,82 L220,105 L180,135 L130,166 L95,192 Z" fill="#e2ded8"/>
<path d="M225,308 L265,323 L283,350 L298,395 L312,350 L322,322 L300,303 L258,298 Z" fill="#e6e2dc"/>
<path d="M575,210 L600,210 L600,525 L582,525 L576,470 L586,420 L570,380 L565,340 L580,300 L575,270 L586,240 Z" fill="#cfcdc4"/>
<path d="M430,525 L435,460 L447,440 L456,450 L446,480 L443,525 Z" fill="#cfd0cc"/>
<path d="M512,502 L530,488 L537,512 L520,524 Z" fill="#d8d8d4"/>
<ellipse cx="545" cy="226" rx="7" ry="6" fill="#d8d8d4"/>
<ellipse cx="56" cy="213" rx="13" ry="9" fill="#9c5a52"/>
<ellipse cx="60" cy="214" rx="6" ry="4" fill="#3a2020"/>
<path d="M30,238 L45,256 L75,272 L100,277 L70,262 L45,246 Z" fill="#7d7a76"/>
<!-- grey highlights -->
<path d="M385,170 L430,260 L470,380 L480,470 L465,470 L450,380 L410,270 L365,185 Z" fill="#485050" opacity="0.55"/>
<path d="M440,200 L500,290 L540,400 L552,480 L538,480 L522,400 L482,300 L425,215 Z" fill="#464e4e" opacity="0.5"/>
<path d="M340,250 L380,350 L400,450 L385,450 L362,350 L325,262 Z" fill="#404848" opacity="0.5"/>
<path d="M120,190 L200,160 L260,170 L250,200 L200,215 L150,225 Z" fill="#343b3f" opacity="0.6"/>
<path d="M130,235 L220,225 L270,250 L240,275 L160,270 Z" fill="#30373b" opacity="0.6"/>
<path d="M150,70 L215,66 L222,86 L170,122 L150,110 Z" fill="#1a1e20"/><path d="M168,88 L195,80 L204,88 L186,100 L172,106 Z" fill="#3a4044"/><path d="M270,25 L300,20 L335,30 L345,70 L325,60 L305,42 L280,44 Z" fill="#1c2124"/>
<ellipse cx="236" cy="131" rx="14" ry="8" fill="#0c0e10"/>
<path d="M300,60 L330,70 L350,110 L340,160 L318,170 L305,120 Z" fill="#14181a"/>
</g>
</g>
</g></g>

<!-- Brown Swiss -->
<g filter="url(#bl2)"><g transform="translate(860,218) scale(0.16756)">
<g clip-path="url(#bc)">
<rect x="0" y="0" width="750" height="540" fill="#867062"/>
<g filter="url(#bl)">
<!-- body -->
<path d="M445,140 L470,220 L520,222 L570,240 L640,265 L720,285 L720,510 L400,510 L430,400 L445,300 L440,200 Z" fill="#6d5a4d"/>
<path d="M600,260 L720,285 L720,510 L640,510 L650,400 Z" fill="#594940"/>
<path d="M500,240 L540,330 L560,510 L530,510 L515,340 L480,250 Z" fill="#857060" opacity="0.7"/>
<path d="M560,250 L610,350 L625,510 L600,510 L590,360 L545,262 Z" fill="#8a7260" opacity="0.6"/>
<!-- ears -->
<path d="M35,160 L55,135 L95,120 L140,120 L175,135 L200,155 L195,215 L160,228 L120,222 L75,200 L45,180 Z" fill="#e6bfa6"/>
<path d="M50,160 L70,142 L100,132 L140,133 L172,148 L188,170 L180,205 L150,212 L115,205 L80,188 Z" fill="#cf8a78"/>
<path d="M120,135 L160,132 L198,152 L198,215 L165,222 L150,185 Z" fill="#93705e"/>
<path d="M460,125 L490,108 L530,105 L565,118 L585,145 L580,170 L550,195 L515,215 L495,222 L470,220 L445,180 Z" fill="#e2b59e"/>
<path d="M475,135 L500,120 L530,118 L558,128 L572,150 L565,170 L540,190 L510,205 L485,205 L465,170 Z" fill="#cc8474"/>
<path d="M450,140 L500,135 L515,170 L490,200 L460,205 Z" fill="#8e6e5e"/>
<ellipse cx="140" cy="200" rx="30" ry="22" fill="#d9c43c"/>
<path d="M462,222 L470,195 L500,182 L512,195 L500,222 Z" fill="#dcc838"/>
<!-- face shading -->
<path d="M235,80 L265,50 L310,37 L355,38 L395,58 L420,90 L430,130 L380,120 L330,100 L270,105 L225,120 Z" fill="#7e695c"/>
<path d="M330,62 L390,70 L420,110 L400,130 L360,110 L330,90 Z" fill="#a2958b"/>
<path d="M230,95 L270,80 L290,95 L250,110 Z" fill="#a09186" opacity="0.6"/>
<path d="M368,200 L394,165 L414,162 L422,225 L412,288 L382,298 L352,262 L362,235 Z" fill="#cbc1b5"/>
<ellipse cx="391" cy="218" rx="21" ry="13" fill="#2a2224" transform="rotate(-25 391 218)"/>
<path d="M420,120 L445,140 L450,300 L435,340 L420,300 L428,220 Z" fill="#6b5648"/>
<path d="M210,230 L260,220 L320,240 L340,330 L300,360 L230,360 L215,330 Z" fill="#7f6a5e" opacity="0.9"/>
<!-- lower face/jaw lighter -->
<path d="M340,300 L420,300 L435,350 L420,420 L380,470 L340,480 L350,400 Z" fill="#a09280"/>
<!-- muzzle -->
<path d="M195,390 L215,365 L250,352 L300,358 L335,385 L355,430 L350,455 L300,465 L230,478 L200,455 L190,420 Z" fill="#c9d1d6"/>
<path d="M192,410 L215,388 L260,385 L300,392 L312,420 L300,455 L265,475 L225,470 L198,448 Z" fill="#40363c"/>
<path d="M225,405 L285,400 L290,450 L260,470 L228,462 Z" fill="#6a5a5a"/><ellipse cx="209" cy="428" rx="12" ry="16" fill="#17131a"/>
<ellipse cx="296" cy="418" rx="13" ry="16" fill="#17131a"/>
<path d="M195,462 L230,478 L300,465 L340,470 L330,505 L275,505 L215,490 Z" fill="#7f7a5c"/>
<!-- collar -->
<path d="M428,330 L448,335 L425,505 L398,505 Z" fill="#3c3a46"/>
<ellipse cx="432" cy="372" rx="13" ry="22" fill="#4a4044"/>
<ellipse cx="428" cy="402" rx="10" ry="14" fill="#c9a64a"/>
<ellipse cx="433" cy="345" rx="8" ry="8" fill="#c8905a"/>
</g>
</g>
</g></g>

<!-- Jersey -->
<g filter="url(#bl2)"><g transform="translate(872,312) scale(0.18616)">
<g clip-path="url(#jc)">
<rect x="0" y="0" width="620" height="540" fill="#d9ab7d"/>
<g filter="url(#bl)">
<!-- body shading -->
<path d="M355,85 L420,80 L500,72 L580,55 L580,250 L480,230 L400,180 Z" fill="#dfb184"/>
<path d="M500,250 L580,230 L580,420 L520,400 L470,330 Z" fill="#cb9b6c"/>
<path d="M360,180 L420,260 L470,380 L500,440 L470,440 L420,380 L370,300 L345,220 Z" fill="#d2a578" opacity="0.9"/>
<path d="M330,350 L400,400 L440,435 L485,490 L500,515 L580,515 L580,440 L520,445 L470,415 L400,360 L350,330 Z" fill="#e9dcbc"/><path d="M330,350 L400,400 L440,435 L485,490 L500,515 L520,515 L500,488 L455,436 L410,396 L345,345 Z" fill="#8d8654"/>
<path d="M520,400 L580,410 L580,470 L540,450 Z" fill="#c9a878" opacity="0.7"/>
<!-- face -->
<path d="M125,175 L145,112 L178,90 L230,70 L280,75 L300,120 L300,200 L290,300 L250,340 L170,345 L100,300 L100,240 Z" fill="#deb68e"/>
<path d="M195,130 L250,100 L290,110 L300,200 L280,260 L230,290 L190,270 L200,200 Z" fill="#e6d3bd"/>
<path d="M182,60 L195,38 L220,30 L250,35 L270,50 L278,65 L250,75 L200,85 L180,90 Z" fill="#d3a070"/>
<path d="M130,180 L175,120 L200,110 L195,160 L170,230 L130,290 L95,290 Z" fill="#d2a274" opacity="0.95"/>
<ellipse cx="240" cy="180" rx="30" ry="17" fill="#2a2222" transform="rotate(-15 240 180)"/>
<path d="M205,190 L230,170 L215,205 Z" fill="#6a4a3a"/>
<!-- ears -->
<path d="M60,130 L50,110 L65,95 L95,90 L125,98 L145,112 L125,160 L90,150 Z" fill="#cfa06c"/>
<path d="M62,124 L70,100 L100,96 L132,110 L124,152 L88,146 Z" fill="#9c6a38"/>
<ellipse cx="106" cy="146" rx="12" ry="14" fill="#cfcf3a"/>
<path d="M296,86 L325,76 L354,90 L360,130 L342,172 L312,164 L300,125 Z" fill="#a87848"/><path d="M306,96 L326,90 L344,100 L348,130 L336,156 L318,150 L308,124 Z" fill="#5e3c1c"/>
<path d="M296,80 L330,78 L355,90 L352,110 L330,90 L300,95 Z" fill="#d9a878"/>
<!-- ear-neck fold -->
<path d="M283,160 L322,165 L332,260 L312,335 L278,325 L293,250 Z" fill="#ad7f50" opacity="0.95"/>
<!-- muzzle -->
<path d="M85,290 L130,295 L165,320 L175,350 L150,368 L110,378 L100,340 Z" fill="#ece6e0"/>
<path d="M45,330 L48,310 L65,298 L95,296 L118,312 L112,345 L130,372 L120,388 L90,388 L60,372 L48,355 Z" fill="#1d1a1c"/>
<path d="M75,312 L100,308 L108,322 L85,332 Z" fill="#3a3638"/>
<path d="M165,340 L250,332 L290,322 L335,348 L290,360 L250,374 L200,369 L155,376 Z" fill="#a27a4c"/>
</g>
</g>
</g></g>

<!-- legend lines -->
<path d="M834,20 H856" stroke="#000" stroke-width="2.9"/>
<path d="M834,62 H856" stroke="#7f6000" stroke-width="2.9"/>
<path d="M834,104 H856" stroke="#ffc000" stroke-width="2.9"/>
</svg>
<div class="t yt" style="top:43.2px">30</div>
<div class="t yt" style="top:111.9px">25</div>
<div class="t yt" style="top:180.7px">20</div>
<div class="t yt" style="top:249.4px">15</div>
<div class="t yt" style="top:318.1px">10</div>
<div class="t yt" style="top:386.9px">5</div>
<div class="t yt" style="top:455.6px">0</div>
<div class="t xt" style="top:483.2px;left:81.5px">0</div>
<div class="t xt" style="top:483.2px;left:153.9px">30</div>
<div class="t xt" style="top:483.2px;left:226.3px">60</div>
<div class="t xt" style="top:483.2px;left:298.7px">90</div>
<div class="t xt" style="top:483.2px;left:371.1px">120</div>
<div class="t xt" style="top:483.2px;left:443.5px">150</div>
<div class="t xt" style="top:483.2px;left:515.9px">180</div>
<div class="t xt" style="top:483.2px;left:588.3px">210</div>
<div class="t xt" style="top:483.2px;left:660.7px">240</div>
<div class="t xt" style="top:483.2px;left:733.1px">270</div>
<div class="t xt" style="top:483.2px;left:805.5px">300</div>
<div class="t" style="font-weight:bold;font-size:23.2px;left:395.3px;top:513.5px">Días en lactancia</div>
<div class="t" style="font-weight:bold;font-size:23.3px;left:61px;top:247.4px;transform:translate(-50%,-50%) rotate(-90deg);">Producción de leche (kg/d)</div>
<div class="t dl" style="left:265.2px;top:4.4px">27.4</div>
<div class="t dl" style="left:272.1px;top:46.4px">24.0</div>
<div class="t dl" style="left:236.6px;top:103.4px">21.3</div>
<div class="t lg" style="top:8px">Holstein</div>
<div class="t lg" style="top:50px">Pardo suizo</div>
<div class="t lg" style="top:92px">Jersey</div>
<div class="t" style="color:#c00000;font-size:18.7px;-webkit-text-stroke:0.3px #c00000;left:21.2px;top:488.6px">18</div>
</body></html>
